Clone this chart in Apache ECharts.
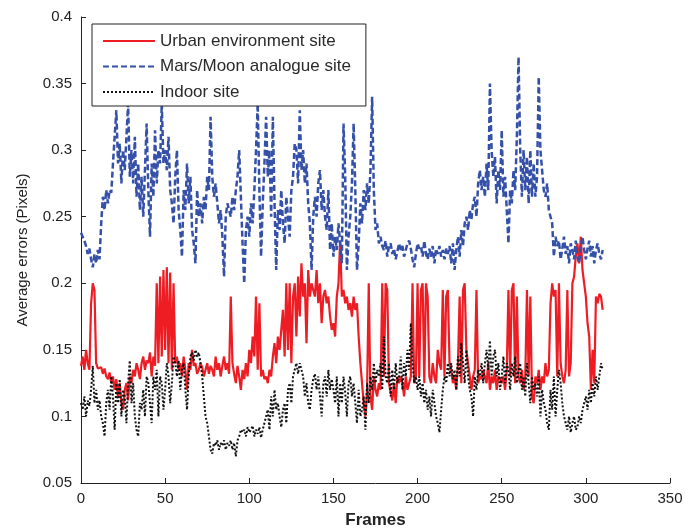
<!DOCTYPE html>
<html>
<head>
<meta charset="utf-8">
<script src="https://cdn.jsdelivr.net/npm/echarts@6/dist/echarts.min.js"></script>
<style>html,body{margin:0;padding:0;background:#fff}#c{width:685px;height:531px}</style>
</head>
<body>
<div id="c"></div>
<script>
var seriesNames = ["Urban environment site", "Mars/Moon analogue site", "Indoor site"];
var xTicks = [0, 50, 100, 150, 200, 250, 300, 350];
var yTicks = [0.05, 0.1, 0.15, 0.2, 0.25, 0.3, 0.35, 0.4];

var urban = [
0.138,0.145,0.135,0.15,0.14,0.135,0.185,0.2,0.195,0.14,
0.136,0.135,0.137,0.132,0.136,0.13,0.128,0.133,0.125,0.13,
0.12,0.128,0.115,0.125,0.11,0.105,0.12,0.125,0.112,0.13,
0.125,0.135,0.13,0.14,0.135,0.128,0.14,0.145,0.135,0.142,
0.14,0.148,0.13,0.145,0.138,0.2,0.14,0.205,0.145,0.21,
0.15,0.212,0.14,0.208,0.135,0.2,0.14,0.145,0.135,0.14,
0.13,0.145,0.135,0.12,0.14,0.135,0.15,0.138,0.14,0.132,
0.135,0.14,0.137,0.13,0.135,0.14,0.132,0.138,0.135,0.13,
0.145,0.135,0.14,0.13,0.138,0.145,0.135,0.14,0.132,0.19,
0.14,0.132,0.125,0.138,0.13,0.12,0.135,0.128,0.14,0.13,
0.15,0.14,0.16,0.145,0.19,0.135,0.185,0.13,0.135,0.128,
0.13,0.125,0.135,0.13,0.145,0.155,0.14,0.16,0.15,0.15,
0.18,0.145,0.2,0.15,0.2,0.14,0.19,0.2,0.16,0.205,
0.175,0.215,0.19,0.2,0.155,0.21,0.19,0.2,0.195,0.19,
0.21,0.185,0.2,0.17,0.19,0.195,0.185,0.19,0.175,0.165,
0.17,0.16,0.19,0.2,0.232,0.19,0.195,0.185,0.19,0.18,
0.185,0.175,0.19,0.18,0.185,0.16,0.14,0.125,0.11,0.1,
0.12,0.2,0.115,0.105,0.13,0.12,0.115,0.125,0.12,0.2,
0.13,0.2,0.195,0.125,0.118,0.112,0.125,0.11,0.13,0.125,
0.13,0.125,0.115,0.13,0.12,0.125,0.13,0.2,0.125,0.13,
0.2,0.13,0.195,0.2,0.125,0.2,0.19,0.13,0.125,0.14,
0.13,0.125,0.15,0.14,0.135,0.195,0.13,0.19,0.195,0.14,
0.135,0.125,0.13,0.12,0.14,0.19,0.125,0.195,0.2,0.15,
0.14,0.13,0.12,0.13,0.135,0.195,0.125,0.13,0.128,0.135,
0.13,0.125,0.14,0.12,0.13,0.125,0.135,0.12,0.13,0.128,
0.125,0.13,0.12,0.135,0.195,0.13,0.195,0.2,0.125,0.19,
0.13,0.125,0.135,0.12,0.13,0.195,0.13,0.19,0.115,0.11,
0.13,0.125,0.135,0.12,0.13,0.125,0.14,0.13,0.135,0.185,
0.2,0.19,0.195,0.13,0.2,0.14,0.13,0.125,0.135,0.195,
0.13,0.14,0.2,0.205,0.22,0.23,0.215,0.235,0.21,0.2,
0.19,0.17,0.16,0.12,0.15,0.125,0.19,0.185,0.192,0.19,
0.18
];

var mars = [
0.238,0.235,0.232,0.228,0.222,0.226,0.218,0.212,0.222,0.215,
0.225,0.218,0.245,0.265,0.255,0.27,0.26,0.27,0.268,0.29,
0.31,0.33,0.29,0.305,0.275,0.3,0.285,0.31,0.335,0.28,
0.3,0.275,0.31,0.265,0.29,0.255,0.28,0.25,0.285,0.32,
0.27,0.235,0.29,0.265,0.315,0.275,0.3,0.29,0.335,0.29,
0.3,0.285,0.31,0.27,0.26,0.245,0.28,0.3,0.255,0.24,
0.22,0.27,0.255,0.29,0.26,0.28,0.24,0.23,0.215,0.27,
0.25,0.26,0.245,0.265,0.255,0.28,0.27,0.325,0.28,0.265,
0.275,0.26,0.245,0.255,0.235,0.205,0.25,0.26,0.26,0.25,
0.265,0.255,0.27,0.28,0.3,0.265,0.23,0.2,0.24,0.25,
0.235,0.26,0.245,0.27,0.3,0.335,0.27,0.22,0.26,0.29,
0.325,0.28,0.3,0.25,0.325,0.26,0.21,0.255,0.24,0.27,
0.245,0.23,0.265,0.25,0.235,0.27,0.28,0.305,0.3,0.275,
0.33,0.285,0.3,0.275,0.29,0.26,0.245,0.21,0.25,0.265,
0.25,0.275,0.285,0.255,0.27,0.25,0.24,0.27,0.225,0.245,
0.22,0.235,0.225,0.245,0.23,0.215,0.32,0.28,0.21,0.235,
0.25,0.275,0.32,0.27,0.21,0.23,0.26,0.245,0.27,0.255,
0.275,0.26,0.285,0.34,0.27,0.24,0.245,0.23,0.235,0.228,
0.225,0.232,0.22,0.228,0.23,0.222,0.226,0.218,0.224,0.23,
0.225,0.228,0.22,0.225,0.23,0.232,0.226,0.218,0.212,0.222,
0.23,0.226,0.228,0.22,0.232,0.222,0.218,0.226,0.22,0.228,
0.215,0.226,0.222,0.228,0.22,0.225,0.218,0.226,0.222,0.228,
0.215,0.23,0.21,0.225,0.235,0.22,0.24,0.228,0.245,0.25,
0.24,0.255,0.248,0.26,0.265,0.25,0.275,0.285,0.27,0.28,
0.265,0.29,0.27,0.35,0.3,0.28,0.295,0.26,0.285,0.27,
0.315,0.265,0.28,0.255,0.23,0.27,0.26,0.285,0.27,0.31,
0.37,0.3,0.265,0.3,0.27,0.295,0.26,0.3,0.265,0.29,
0.265,0.28,0.355,0.3,0.285,0.27,0.265,0.275,0.255,0.25,
0.245,0.22,0.235,0.228,0.232,0.218,0.226,0.235,0.222,0.228,
0.215,0.23,0.225,0.218,0.232,0.22,0.215,0.228,0.235,0.225,
0.218,0.226,0.232,0.22,0.228,0.215,0.225,0.23,0.222,0.218,
0.225
];

var indoor = [
0.11,0.105,0.115,0.1,0.112,0.108,0.12,0.138,0.11,0.12,
0.105,0.112,0.1,0.095,0.085,0.11,0.12,0.105,0.13,0.115,
0.09,0.125,0.11,0.128,0.1,0.12,0.115,0.095,0.125,0.142,
0.11,0.125,0.1,0.09,0.085,0.11,0.105,0.12,0.1,0.13,
0.125,0.11,0.095,0.13,0.12,0.135,0.1,0.13,0.125,0.105,
0.12,0.14,0.13,0.11,0.125,0.145,0.14,0.13,0.142,0.12,
0.135,0.14,0.12,0.105,0.13,0.145,0.148,0.142,0.15,0.145,
0.148,0.14,0.13,0.115,0.1,0.095,0.085,0.075,0.072,0.08,
0.078,0.082,0.075,0.08,0.078,0.082,0.075,0.08,0.078,0.082,
0.075,0.08,0.07,0.082,0.085,0.09,0.088,0.09,0.085,0.092,
0.088,0.09,0.093,0.085,0.09,0.087,0.092,0.084,0.09,0.095,
0.1,0.105,0.09,0.115,0.1,0.12,0.105,0.11,0.1,0.092,
0.105,0.11,0.095,0.12,0.125,0.11,0.13,0.135,0.14,0.132,
0.14,0.135,0.13,0.115,0.125,0.11,0.105,0.12,0.128,0.132,
0.12,0.13,0.115,0.1,0.125,0.13,0.115,0.135,0.12,0.128,
0.12,0.11,0.13,0.1,0.125,0.11,0.13,0.118,0.1,0.125,
0.13,0.115,0.125,0.11,0.095,0.12,0.1,0.105,0.115,0.09,
0.125,0.11,0.13,0.12,0.14,0.125,0.135,0.13,0.14,0.12,
0.16,0.13,0.125,0.14,0.115,0.135,0.12,0.14,0.125,0.13,
0.145,0.12,0.14,0.13,0.15,0.135,0.17,0.14,0.125,0.13,
0.12,0.13,0.115,0.125,0.11,0.12,0.105,0.115,0.1,0.12,
0.11,0.1,0.095,0.088,0.105,0.12,0.13,0.125,0.14,0.13,
0.14,0.128,0.135,0.12,0.145,0.13,0.155,0.14,0.125,0.15,
0.13,0.12,0.115,0.1,0.13,0.12,0.135,0.13,0.14,0.125,
0.14,0.15,0.135,0.157,0.13,0.145,0.15,0.13,0.14,0.12,
0.13,0.145,0.125,0.14,0.135,0.12,0.14,0.13,0.145,0.125,
0.135,0.14,0.12,0.13,0.115,0.14,0.125,0.11,0.13,0.12,
0.125,0.115,0.13,0.1,0.12,0.11,0.105,0.095,0.09,0.12,
0.105,0.13,0.1,0.12,0.135,0.125,0.11,0.1,0.095,0.09,
0.1,0.088,0.095,0.1,0.09,0.092,0.1,0.095,0.105,0.11,
0.115,0.105,0.12,0.11,0.125,0.115,0.13,0.12,0.13,0.14,
0.135
];

function pairs(arr) { return arr.map(function (v, i) { return [i, v]; }); }

var chart = echarts.init(document.getElementById('c'), null, { renderer: 'canvas' });
var font = '"Liberation Sans", Arial, sans-serif';
chart.setOption({
  animation: false,
  backgroundColor: '#fff',
  grid: { left: 81, right: 15, top: 17, bottom: 48, containLabel: false, outerBoundsMode: 'none' },
  legend: {
    orient: 'vertical',
    left: 92, top: 24,
    padding: [8, 15, 5, 10],
    itemWidth: 52, itemHeight: 14, itemGap: 7.5,
    borderColor: '#222', borderWidth: 1,
    backgroundColor: '#fff',
    itemStyle: { opacity: 0 },
    textStyle: { fontFamily: font, fontSize: 17, color: '#2a2a2a', lineHeight: 18 },
    data: seriesNames
  },
  xAxis: {
    type: 'value', min: xTicks[0], max: xTicks[xTicks.length - 1], interval: 50,
    name: 'Frames', nameLocation: 'middle', nameGap: 29,
    nameTextStyle: { fontFamily: font, fontSize: 17, color: '#222', fontWeight: 'bold' },
    axisLine: { lineStyle: { color: '#222', width: 1 } },
    axisTick: { inside: true, length: 5, lineStyle: { color: '#222' } },
    axisLabel: { fontFamily: font, fontSize: 15, color: '#222', margin: 8 },
    splitLine: { show: false }
  },
  yAxis: {
    type: 'value', min: yTicks[0], max: yTicks[yTicks.length - 1], interval: 0.05,
    name: 'Average errors (Pixels)', nameLocation: 'middle', nameGap: 51,
    nameTextStyle: { fontFamily: font, fontSize: 15, color: '#222' },
    axisLine: { show: true, lineStyle: { color: '#222', width: 1 } },
    axisTick: { show: true, inside: true, length: 5, lineStyle: { color: '#222' } },
    axisLabel: { fontFamily: font, fontSize: 15, color: '#222', margin: 9,
      formatter: function (v) { return String(Math.round(v * 100) / 100); } },
    splitLine: { show: false }
  },
  series: [
    { name: seriesNames[0], type: 'line', data: pairs(urban), showSymbol: false, symbol: 'none',
      color: '#ee1d23', lineStyle: { color: '#ee1d23', width: 2.2 } },
    { name: seriesNames[1], type: 'line', data: pairs(mars), showSymbol: false, symbol: 'none',
      color: '#3550a8', lineStyle: { color: '#3550a8', width: 2.5, type: [6, 3] } },
    { name: seriesNames[2], type: 'line', data: pairs(indoor), showSymbol: false, symbol: 'none',
      color: '#111', lineStyle: { color: '#111', width: 2, type: [2, 2] } }
  ]
});
</script>
</body>
</html>
